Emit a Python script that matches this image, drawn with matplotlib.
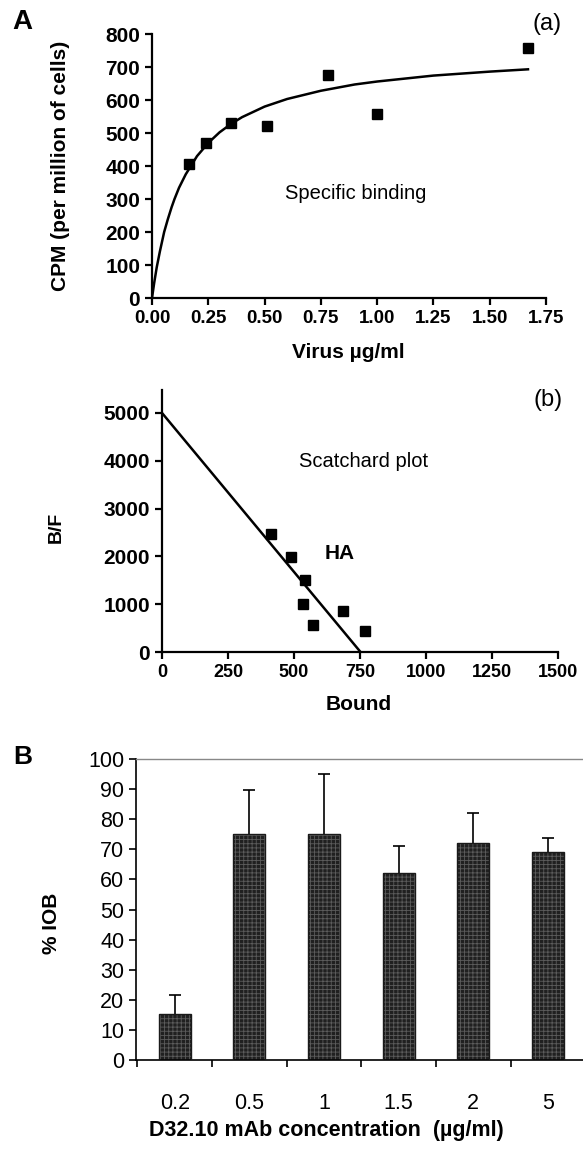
import matplotlib
matplotlib.use('Agg')
import matplotlib.pyplot as plt

plt.rcParams['font.family'] = ['Liberation Sans', 'DejaVu Sans']
plt.rcParams['hatch.linewidth'] = 0.6

# (a) specific binding
virus = [0.165, 0.24, 0.35, 0.51, 0.78, 1.0, 1.67]
cpm = [405, 471, 529, 521, 677, 559, 758]
# fitted curve
curve_x = [0.0, 0.01, 0.021, 0.035, 0.054, 0.07, 0.087, 0.1, 0.12, 0.15, 0.2,
           0.25, 0.3, 0.35, 0.4, 0.5, 0.6, 0.75, 0.9, 1.0, 1.25, 1.5, 1.67]
curve_y = [0, 47, 93, 141, 200, 238, 275, 300, 334, 375, 430,
           470, 502, 527, 548, 580, 603, 628, 647, 656, 674, 686, 693]

# (b) scatchard plot
bound = [413, 487, 540, 533, 571, 684, 770]
bf = [2462, 1987, 1500, 1011, 558, 851, 439]
fit_x = [0, 752]
fit_y = [5000, 0]

# B: % IOB vs mAb concentration
conc = ['0.2', '0.5', '1', '1.5', '2', '5']
iob = [15.3, 75, 75, 62, 72, 69]
iob_err = [6.3, 14.6, 20, 9, 10, 4.7]

W, H = 583, 1156
fig = plt.figure(figsize=(W / 100, H / 100), dpi=100)


def style_xy(ax, xsize, ysize, lw=1.6):
    for s in ['top', 'right']:
        ax.spines[s].set_visible(False)
    for s in ['left', 'bottom']:
        ax.spines[s].set_linewidth(lw)
    ax.tick_params(direction='out', width=lw, length=5)
    ax.tick_params(axis='x', labelsize=xsize)
    ax.tick_params(axis='y', labelsize=ysize)
    for lab in ax.get_xticklabels() + ax.get_yticklabels():
        lab.set_fontweight('bold')


def place_labels(ax, xl, yl):
    # label centres in axes coordinates
    ax.xaxis.label.set_va('center')
    ax.xaxis.set_label_coords(*xl)
    ax.yaxis.label.set_va('center')
    ax.yaxis.set_label_coords(*yl)


# ---- panel (a)
ax1 = fig.add_axes([152 / W, 1 - 298 / H, 394 / W, 264 / H])
ax1.plot(curve_x, curve_y, color='black', lw=1.8)
ax1.plot(virus, cpm, 's', color='black', ms=7)
ax1.set_xlim(0, 1.75)
ax1.set_ylim(0, 800)
ax1.set_xticks([0, 0.25, 0.5, 0.75, 1.0, 1.25, 1.5, 1.75])
ax1.set_xticklabels(['0.00', '0.25', '0.50', '0.75', '1.00', '1.25', '1.50', '1.75'])
ax1.set_yticks(range(0, 801, 100))
style_xy(ax1, 13.5, 15)
ax1.set_xlabel('Virus µg/ml', fontsize=15, fontweight='bold')
ax1.set_ylabel('CPM (per million of cells)', fontsize=15, fontweight='bold')
place_labels(ax1, (0.497, -0.208), (-0.231, 0.5))
ax1.text(0.904, 318, 'Specific binding', fontsize=14.5, ha='center', va='center')

# ---- panel (b)
ax2 = fig.add_axes([162 / W, 1 - 652 / H, 396 / W, 262 / H])
ax2.plot(fit_x, fit_y, color='black', lw=1.8)
ax2.plot(bound, bf, 's', color='black', ms=7)
ax2.set_xlim(0, 1500)
ax2.set_ylim(0, 5480)
ax2.set_xticks(range(0, 1501, 250))
ax2.set_yticks(range(0, 5001, 1000))
style_xy(ax2, 13, 15)
ax2.set_xlabel('Bound', fontsize=15, fontweight='bold')
ax2.set_ylabel('B/F', fontsize=14, fontweight='bold')
place_labels(ax2, (0.497, -0.202), (-0.268, 0.477))
ax2.text(764, 3975, 'Scatchard plot', fontsize=14.5, ha='center', va='center')
ax2.text(674, 2057, 'HA', fontsize=15, fontweight='bold', ha='center', va='center')

# ---- panel B
ax3 = fig.add_axes([136 / W, 1 - 1060 / H, 447 / W, 301 / H])
xpos = range(len(conc))
ax3.errorbar(xpos, iob, yerr=iob_err, fmt='none', ecolor='black',
             elinewidth=1.2, capsize=4, capthick=1.2, zorder=1)
ax3.bar(xpos, iob, width=0.43, color='#202020', edgecolor='#5c5c5c',
        hatch='++++', lw=0, zorder=2)
ax3.bar(xpos, iob, width=0.43, fill=False, edgecolor='#1a1a1a', lw=1.0, zorder=3)
ax3.set_xlim(-0.52, 5.47)
ax3.set_ylim(0, 100)
ax3.set_yticks(range(0, 101, 10))
ax3.set_xticks(list(xpos))
ax3.set_xticklabels(conc)
ax3.set_xticks([-0.5, 0.5, 1.5, 2.5, 3.5, 4.5], minor=True)
ax3.tick_params(axis='x', which='major', length=0, pad=24, labelsize=15.5)
ax3.tick_params(axis='x', which='minor', direction='out', length=5, width=1.2)
ax3.tick_params(axis='y', direction='out', length=5, width=1.2, labelsize=15.5)
ax3.spines['right'].set_visible(False)
ax3.spines['top'].set_color('#888888')
ax3.spines['top'].set_linewidth(1.0)
ax3.spines['left'].set_linewidth(1.2)
ax3.spines['bottom'].set_linewidth(1.2)
ax3.set_xlabel('D32.10 mAb concentration  (µg/ml)', fontsize=15.5, fontweight='bold')
ax3.set_ylabel('% IOB', fontsize=15, fontweight='bold')
place_labels(ax3, (0.427, -0.233), (-0.188, 0.455))

# panel letters
fig.text(22 / W, 1 - 22 / H, 'A', fontsize=20, fontweight='bold', ha='center', va='center')
fig.text(547 / W, 1 - 24 / H, '(a)', fontsize=17, ha='center', va='center')
fig.text(548 / W, 1 - 400 / H, '(b)', fontsize=17, ha='center', va='center')
fig.text(23 / W, 1 - 757 / H, 'B', fontsize=19, fontweight='bold', ha='center', va='center')

fig.savefig('out.png', dpi=100)
